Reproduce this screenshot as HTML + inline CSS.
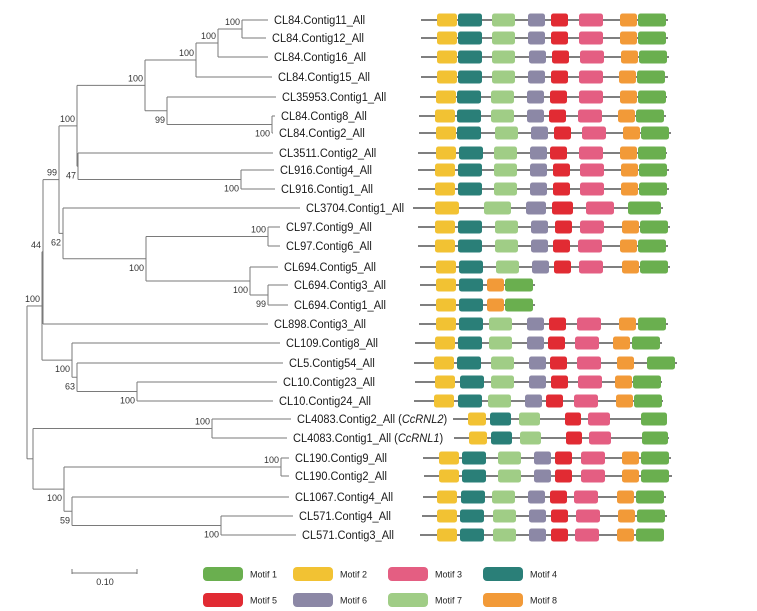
<!DOCTYPE html>
<html><head><meta charset="utf-8">
<style>
html,body{margin:0;padding:0;background:#fff;}
svg{display:block;font-family:"Liberation Sans",Arial,sans-serif;}
</style></head>
<body>
<svg id="chart" width="757" height="611" viewBox="0 0 757 611" xmlns="http://www.w3.org/2000/svg"></svg>
<script>
// ---- data ----
const leafNames = ["CL84.Contig11_All","CL84.Contig12_All","CL84.Contig16_All","CL84.Contig15_All","CL35953.Contig1_All","CL84.Contig8_All","CL84.Contig2_All","CL3511.Contig2_All","CL916.Contig4_All","CL916.Contig1_All","CL3704.Contig1_All","CL97.Contig9_All","CL97.Contig6_All","CL694.Contig5_All","CL694.Contig3_All","CL694.Contig1_All","CL898.Contig3_All","CL109.Contig8_All","CL5.Contig54_All","CL10.Contig23_All","CL10.Contig24_All","CL4083.Contig2_All","CL4083.Contig1_All","CL190.Contig9_All","CL190.Contig2_All","CL1067.Contig4_All","CL571.Contig4_All","CL571.Contig3_All"];
const leafItalic = {21:"CcRNL2",22:"CcRNL1"};
const leafDepth = [268,266,268,272,276,275,273,273,274,275,300,280,280,278,288,288,268,280,283,277,273,291,287,289,289,289,293,296];
const rowY = [20,38,57,77,97,116,133,153,170,189,208,227,246,267,285,305,324,343,363,382,401,419,438,458,476,497,516,535];
// internal nodes: [name, depth, childA, childB, support, labelPos]
const nodes = [
 ["A",242,"L0","L1","100","u"],["B",218,"A","L2","100","u"],["C",196,"B","L3","100","u"],
 ["E",272,"L5","L6","100","d"],["D",167,"L4","E","99","d"],["F",145,"C","D","100","u"],
 ["H",241,"L8","L9","100","d"],["G",78,"L7","H","47","d"],["FG",77,"F","G","100","u"],
 ["I",268,"L11","L12","100","u"],["J",268,"L14","L15","99","d"],["K",250,"L13","J","100","d"],
 ["Lx",146,"I","K","100","d"],["M",63,"L10","Lx","62","d"],["N",59,"FG","M","99","u"],
 ["O",43,"N","L16","44","u"],["P",137,"L19","L20","100","d"],["Q",77,"L18","P","63","d"],
 ["R",72,"L17","Q","100","d"],["S",42,"O","R","100","u"],["T",212,"L21","L22","100","u"],
 ["U",281,"L23","L24","100","u"],["V",221,"L26","L27","100","d"],["W",72,"L25","V","59","d"],
 ["X",64,"U","W","100","d"],["Y",33,"T","X","",""],["Root",27,"S","Y","",""]
];
const motifColors = ["#6aaf4f","#f2c233","#e45e82","#2a7f78","#e12b33","#8c88a6","#a0cd86","#f29a38"];
const motifW = [28,20,24,24,17,17,23,17];
const full = [2,4,7,6,5,3,8,1];
const motifStarts = [
 [37,58,92,128,151,179,220,238],[37,58,92,128,151,179,220,238],[37,58,92,129,152,180,221,239],
 [37,58,92,128,151,179,219,237],[36,57,91,127,150,179,220,238],[35,57,91,127,149,178,218,236],
 [36,57,95,131,154,182,223,241],[36,59,94,130,150,179,220,238],[35,58,94,130,153,180,221,239],
 [35,58,94,130,153,180,221,239],[35,84,126,152,186,228],[35,58,95,131,155,180,222,240],
 [35,58,95,131,153,178,220,238],[36,59,96,132,154,179,222,240],[36,59,87,105],[36,59,87,105],
 [36,59,89,127,149,177,219,238],[35,58,89,127,148,175,213,232],[34,57,91,129,150,177,217,247],
 [35,60,91,129,151,178,215,233],[34,58,88,125,146,174,216,234],[68,90,119,165,188,241],
 [69,91,120,166,189,242],[39,62,98,134,155,181,222,241],[39,62,98,134,155,181,222,241],
 [37,61,92,128,150,174,217,236],[37,60,93,129,151,176,218,237],[37,60,93,129,151,175,217,236]
];
const motifKinds = {10:[2,7,6,5,3,1],14:[2,4,8,1],15:[2,4,8,1],21:[2,4,7,5,3,1],22:[2,4,7,5,3,1]};
const wOverride = {10:[24,27,20,21,28,33],21:[18,21,21,16,22,26],22:[18,21,21,16,22,26]};
const lineStart = [21,21,21,21,20,19,19,18,18,18,13,18,18,20,20,20,19,15,14,15,14,53,54,23,24,23,22,20];
const lineEnd = [268,268,269,268,267,266,271,267,269,269,263,270,268,270,135,135,268,262,277,262,263,267,269,271,272,266,267,264];
const legendLabels = ["Motif 1","Motif 2","Motif 3","Motif 4","Motif 5","Motif 6","Motif 7","Motif 8"];
const scaleValue = "0.10";

// ---- drawing ----
const NS="http://www.w3.org/2000/svg";
const svg=document.getElementById("chart");
function mk(tag,attrs,parent){const e=document.createElementNS(NS,tag);for(const k in attrs)e.setAttribute(k,attrs[k]);(parent||svg).appendChild(e);return e;}
const sx = p => 400 + p;

const treeG=mk("g",{});


const pos={};
leafNames.forEach((n,i)=>{pos["L"+i]={x:leafDepth[i],y:rowY[i]};});
nodes.forEach(nd=>{const a=pos[nd[2]],b=pos[nd[3]];pos[nd[0]]={x:nd[1],y:(a.y+b.y)/2,a,b};});
const stroke="#7a7a7a";
nodes.forEach(nd=>{
  const p=pos[nd[0]];
  const v=mk("line",{x1:p.x,y1:p.a.y,x2:p.x,y2:p.b.y,stroke:stroke,"stroke-width":1},treeG);
  
  
  [p.a,p.b].forEach(c=>{
    const h=mk("line",{x1:p.x,y1:c.y,x2:c.x,y2:c.y,stroke:stroke,"stroke-width":1},treeG);
    
    
  });
  if(nd[4]){
    const ty = nd[5]==="u" ? p.y-4 : p.y+12;
    const t=mk("text",{x:p.x-2,y:ty,"text-anchor":"end","font-size":9,fill:"#333"},treeG);
    t.textContent=nd[4];
    
    
  }
});
leafNames.forEach((n,i)=>{
  const t=mk("text",{x:0,y:0,"font-size":12,fill:"#1a1a1a",transform:"translate("+(leafDepth[i]+6)+","+(rowY[i]+4)+") scale(0.92,1)"},treeG);
  
  
  if(leafItalic[i]){
    t.appendChild(document.createTextNode(n+" ("));
    const s=mk("tspan",{"font-style":"italic"},t);s.textContent=leafItalic[i];
    t.appendChild(document.createTextNode(")"));
  } else t.textContent=n;
});

// motifs
const motG=mk("g",{});


motifStarts.forEach((starts,i)=>{
  const y=rowY[i];
  const ln=mk("line",{x1:sx(lineStart[i]),y1:y,x2:sx(lineEnd[i]),y2:y,stroke:"#333","stroke-width":1.2},motG);
  
  
  const kinds=motifKinds[i]||full;
  starts.forEach((s,j)=>{
    const m=kinds[j];
    const w=(wOverride[i]?wOverride[i][j]:motifW[m-1]);
    const r=mk("rect",{x:sx(s),y:y-6.5,width:w,height:13,rx:2.5,fill:motifColors[m-1]},motG);
    
    
  });
});

// scale bar
const sb=mk("g",{});


mk("line",{x1:72,y1:573,x2:137,y2:573,stroke:"#777","stroke-width":1},sb);
mk("line",{x1:72,y1:569,x2:72,y2:574,stroke:"#777","stroke-width":1},sb);
mk("line",{x1:137,y1:569,x2:137,y2:574,stroke:"#777","stroke-width":1},sb);
const st=mk("text",{x:105,y:585,"text-anchor":"middle","font-size":9,fill:"#333"},sb);
st.textContent=scaleValue;

// legend
const legX=[203,293,388,483], legY=[574,600];
legendLabels.forEach((lab,i)=>{
  const g=mk("g",{});
  
  
  const x=legX[i%4], y=legY[Math.floor(i/4)];
  mk("rect",{x:x,y:y-7,width:40,height:14,rx:4,fill:motifColors[i]},g);
  const t=mk("text",{x:x+47,y:y+3.5,"font-size":9,fill:"#222"},g);
  t.textContent=lab;
});
</script>
</body></html>
